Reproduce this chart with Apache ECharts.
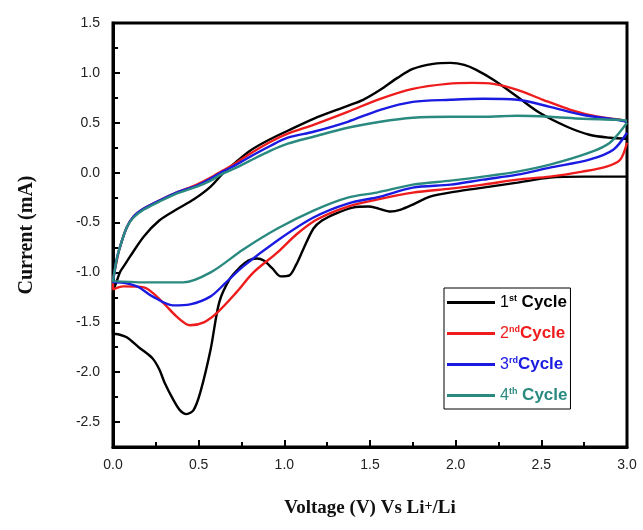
<!DOCTYPE html>
<html>
<head>
<meta charset="utf-8">
<script src="https://cdn.jsdelivr.net/npm/echarts@6/dist/echarts.min.js"></script>
<style>
html,body{margin:0;padding:0;background:#fff;}
#chart{width:643px;height:530px;}
</style>
</head>
<body>
<div id="chart"></div>
<script>
// ---- Data ----
var xTicks = [0.0, 0.5, 1.0, 1.5, 2.0, 2.5, 3.0];
var yTicks = [-2.5, -2.0, -1.5, -1.0, -0.5, 0.0, 0.5, 1.0, 1.5];

var seriesNames = ['1st Cycle', '2nd Cycle', '3rd Cycle', '4th Cycle'];

// 1st cycle: cathodic scan (3.0 -> 0) then anodic scan (0 -> 3.0)
var c1Volt = [3.0,2.75,2.55,2.36,2.16,2.0,1.85,1.75,1.68,1.62,1.55,1.49,1.4,1.3,1.22,1.17,1.11,1.07,1.03,0.98,0.93,0.88,0.84,0.79,0.74,0.68,0.62,0.57,0.51,0.47,0.43,0.39,0.35,0.3,0.27,0.23,0.15,0.08,0.03,0.0,
              0.0,0.02,0.04,0.07,0.10,0.18,0.27,0.37,0.47,0.57,0.64,0.72,0.80,0.90,1.02,1.17,1.37,1.46,1.56,1.66,1.75,1.87,1.97,2.05,2.12,2.22,2.36,2.49,2.65,2.78,2.90,3.0];
var c1Curr = [-0.04,-0.04,-0.05,-0.10,-0.15,-0.19,-0.24,-0.32,-0.37,-0.39,-0.36,-0.34,-0.35,-0.41,-0.48,-0.56,-0.77,-0.92,-1.03,-1.04,-0.96,-0.88,-0.86,-0.88,-0.95,-1.07,-1.3,-1.77,-2.2,-2.38,-2.42,-2.38,-2.27,-2.1,-1.97,-1.86,-1.75,-1.65,-1.62,-1.61,
              -1.2,-1.1,-1.0,-0.92,-0.84,-0.64,-0.48,-0.37,-0.27,-0.14,-0.01,0.11,0.22,0.32,0.42,0.54,0.67,0.73,0.83,0.95,1.04,1.09,1.10,1.08,1.03,0.93,0.76,0.60,0.46,0.38,0.35,0.34];

var c2Volt = [3.0,2.96,2.88,2.74,2.55,2.36,2.16,1.97,1.75,1.54,1.37,1.19,1.07,0.96,0.82,0.72,0.61,0.53,0.45,0.37,0.29,0.18,0.06,0.0,
              0.0,0.02,0.04,0.08,0.12,0.18,0.27,0.37,0.49,0.57,0.64,0.72,0.80,0.92,1.02,1.17,1.37,1.56,1.75,1.95,2.1,2.22,2.36,2.51,2.67,2.83,2.96,3.0];
var c2Curr = [0.30,0.13,0.06,0.01,-0.04,-0.07,-0.12,-0.16,-0.20,-0.27,-0.34,-0.47,-0.62,-0.80,-1.0,-1.20,-1.40,-1.50,-1.53,-1.44,-1.30,-1.15,-1.14,-1.17,
              -1.1,-0.9,-0.75,-0.55,-0.44,-0.36,-0.28,-0.20,-0.12,-0.05,0.02,0.10,0.19,0.31,0.39,0.48,0.61,0.74,0.84,0.89,0.90,0.89,0.83,0.73,0.63,0.56,0.53,0.51];

var c3Volt = [3.0,2.92,2.78,2.55,2.36,2.16,1.97,1.75,1.56,1.37,1.17,0.96,0.76,0.66,0.57,0.45,0.35,0.23,0.14,0.02,0.0,
              0.0,0.02,0.04,0.08,0.12,0.18,0.27,0.37,0.49,0.57,0.64,0.72,0.80,0.92,1.02,1.17,1.37,1.56,1.75,1.97,2.16,2.36,2.55,2.74,2.94,3.0];
var c3Curr = [0.40,0.23,0.13,0.05,-0.02,-0.07,-0.12,-0.15,-0.24,-0.31,-0.45,-0.68,-0.94,-1.10,-1.24,-1.32,-1.33,-1.24,-1.14,-1.10,-1.10,
              -1.1,-0.88,-0.75,-0.55,-0.44,-0.36,-0.28,-0.20,-0.13,-0.06,0.01,0.08,0.16,0.27,0.35,0.41,0.51,0.63,0.71,0.73,0.74,0.73,0.66,0.58,0.53,0.51];

var c4Volt = [3.0,2.90,2.78,2.55,2.36,2.16,1.97,1.75,1.54,1.37,1.17,0.96,0.76,0.57,0.41,0.18,0.02,0.0,
              0.0,0.02,0.04,0.08,0.12,0.18,0.27,0.37,0.49,0.57,0.64,0.72,0.80,0.92,1.02,1.17,1.37,1.56,1.75,1.97,2.16,2.36,2.55,2.74,2.94,3.0];
var c4Curr = [0.50,0.30,0.20,0.08,0.01,-0.04,-0.08,-0.12,-0.20,-0.25,-0.38,-0.56,-0.77,-1.0,-1.10,-1.10,-1.09,-1.09,
              -1.09,-0.88,-0.75,-0.55,-0.45,-0.37,-0.29,-0.21,-0.14,-0.08,-0.01,0.05,0.12,0.22,0.29,0.36,0.45,0.51,0.55,0.56,0.56,0.57,0.56,0.54,0.53,0.52];

var colors = ['#000000', '#ee1c1c', '#1a1ae0', '#2a8a80'];

// ---- Build chart ----
function zip(xs, ys) { return xs.map(function (x, i) { return [x, ys[i]]; }); }
var allData = [zip(c1Volt, c1Curr), zip(c2Volt, c2Curr), zip(c3Volt, c3Curr), zip(c4Volt, c4Curr)];

var supText = {'1st Cycle': ['1', 'st', ' Cycle'], '2nd Cycle': ['2', 'nd', 'Cycle'], '3rd Cycle': ['3', 'rd', 'Cycle'], '4th Cycle': ['4', 'th', ' Cycle']};
var rich = {};
colors.forEach(function (c, i) {
  rich['n' + i] = {color: c, fontSize: 16, fontFamily: 'Liberation Sans', lineHeight: 17};
  rich['s' + i] = {color: c, fontSize: 9, fontFamily: 'Liberation Sans', fontWeight: 'bold', verticalAlign: 'top', lineHeight: 10};
  rich['c' + i] = {color: c, fontSize: 17, fontFamily: 'Liberation Sans', fontWeight: 'bold', lineHeight: 17};
});

var chart = echarts.init(document.getElementById('chart'), null, {renderer: 'canvas'});
var option = {
  backgroundColor: '#fff',
  animation: false,
  grid: {left: 113, right: 16, top: 23, bottom: 83, show: true, borderColor: '#000', borderWidth: 3, backgroundColor: 'transparent'},
  xAxis: {
    type: 'value', min: 0, max: 3, interval: 0.5,
    name: 'Voltage (V) Vs Li{sup|+}/Li', nameLocation: 'middle', nameGap: 52,
    nameTextStyle: {fontFamily: 'Liberation Serif', fontWeight: 'bold', fontSize: 19, color: '#111',
      rich: {sup: {fontFamily: 'Liberation Serif', fontWeight: 'bold', fontSize: 14, verticalAlign: 'top', lineHeight: 14, color: '#111'}}},
    axisLine: {show: true, onZero: false, lineStyle: {color: '#000', width: 3}},
    axisTick: {show: true, inside: true, length: 7, lineStyle: {color: '#000', width: 2}},
    minorTick: {show: true, splitNumber: 2, length: 5, lineStyle: {color: '#000', width: 2}},
    splitLine: {show: false},
    axisLabel: {margin: 11, fontFamily: 'Liberation Sans', fontSize: 14, color: '#222',
      formatter: function (v) { return xTicks.indexOf(v) >= 0 ? v.toFixed(1) : ''; }}
  },
  yAxis: [{
    type: 'value', min: -2.75, max: 1.5, minInterval: 0.5, maxInterval: 0.5, splitNumber: 8,
    name: 'Current (mA)', nameLocation: 'middle', nameGap: 76,
    nameTextStyle: {fontFamily: 'Liberation Serif', fontWeight: 'bold', fontSize: 20, color: '#111'},
    axisLine: {show: true, onZero: false, lineStyle: {color: '#000', width: 3}},
    axisTick: {show: true, inside: true, length: 7, lineStyle: {color: '#000', width: 2}},
    splitLine: {show: false},
    axisLabel: {margin: 13, showMinLabel: false, fontFamily: 'Liberation Sans', fontSize: 14, color: '#222',
      formatter: function (v) { return yTicks.indexOf(Math.round(v * 100) / 100) >= 0 ? v.toFixed(1) : ''; }}
  }, {
    type: 'value', min: -2.75, max: 1.5, interval: 0.25, position: 'left', offset: 0,
    axisLine: {show: false, onZero: false}, axisLabel: {show: false}, splitLine: {show: false},
    axisTick: {show: true, inside: true, length: 5, lineStyle: {color: '#000', width: 2}}
  }],
  legend: {
    orient: 'vertical', left: 444, top: 288,
    padding: [6, 3, 5, 3], itemGap: 14, itemWidth: 48, itemHeight: 3, icon: 'rect',
    borderColor: '#000', borderWidth: 1, backgroundColor: '#fff',
    data: seriesNames,
    formatter: function (name) {
      var i = seriesNames.indexOf(name), p = supText[name];
      return '{n' + i + '|' + p[0] + '}{s' + i + '|' + p[1] + '}{c' + i + '|' + p[2] + '}';
    },
    textStyle: {padding: [0, 0, 0, 0], rich: rich}
  },
  series: allData.map(function (d, i) {
    return {
      name: seriesNames[i], type: 'line', data: d, yAxisIndex: 0,
      showSymbol: false, symbol: 'none', smooth: 0.3,
      lineStyle: {color: colors[i], width: 2.4},
      itemStyle: {color: colors[i]},
      z: 2 + i
    };
  })
};
chart.setOption(option);
</script>
</body>
</html>
